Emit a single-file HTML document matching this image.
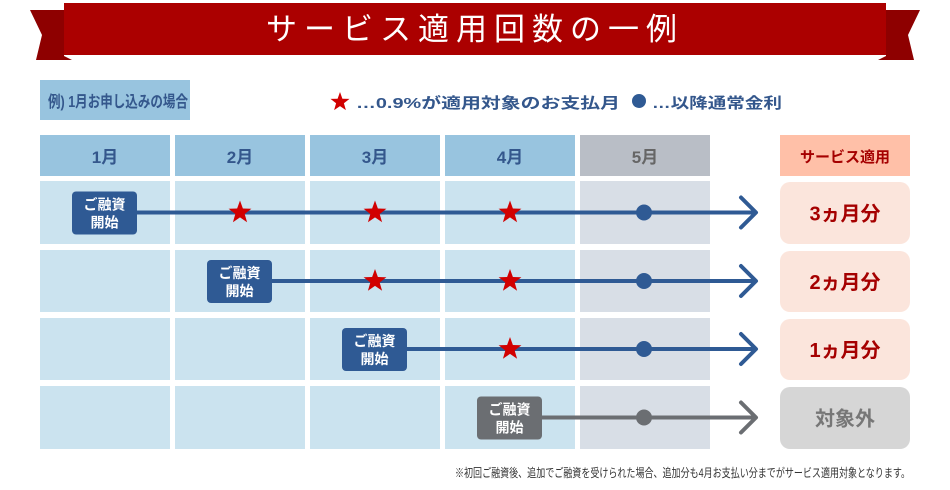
<!DOCTYPE html>
<html><head><meta charset="utf-8">
<style>
body{margin:0;width:950px;height:490px;background:#fff;overflow:hidden;font-family:"Liberation Sans","Noto Sans CJK JP",sans-serif}
svg{display:block}
text{font-family:"Liberation Sans","Noto Sans CJK JP",sans-serif}
</style></head><body>
<svg width="950" height="490" viewBox="0 0 950 490">
<g>
<polygon points="30,10 64,10 64,56 72,60 36,60 42,35" fill="#8e0000"/>
<polygon points="920,10 886,10 886,56 878,60 914,60 908,35" fill="#8e0000"/>
<rect x="64" y="3" width="822" height="52" fill="#ab0000"/>
<text x="475" y="40" text-anchor="middle" font-size="31" fill="#fff" letter-spacing="7">サービス適用回数の一例</text>
</g>
<g>
<rect x="40" y="80" width="150" height="40" fill="#98c4df"/>
<text x="48" y="107" font-size="16" font-weight="bold" fill="#34578c" textLength="140" lengthAdjust="spacingAndGlyphs">例) 1月お申し込みの場合</text>
<polygon id="star" points="0,-10 2.4,-3.3 9.5,-3.1 3.9,1.3 5.9,8.1 0,4.1 -5.9,8.1 -3.9,1.3 -9.5,-3.1 -2.4,-3.3" fill="#d10000" transform="translate(340,102)"/>
<text x="356" y="108" font-size="15" font-weight="bold" fill="#34578c" textLength="264" lengthAdjust="spacingAndGlyphs">…0.9%が適用対象のお支払月</text>
<circle cx="639" cy="101" r="7" fill="#2f5a94"/>
<text x="652" y="108" font-size="15" font-weight="bold" fill="#34578c" textLength="130" lengthAdjust="spacingAndGlyphs">…以降通常金利</text>
</g>
<g id="grid"></g>
<g id="rows"></g>
<text x="455" y="477" font-size="12" fill="#333" textLength="455" lengthAdjust="spacingAndGlyphs">※初回ご融資後、追加でご融資を受けられた場合、追加分も4月お支払い分までがサービス適用対象となります。</text>
</svg>
<script>
const months=["1月","2月","3月","4月","5月"];
const startMonth=[1,2,3,4];
const starCount=[3,2,1,0];
const resultLabels=["3ヵ月分","2ヵ月分","1ヵ月分","対象外"];
const NS="http://www.w3.org/2000/svg";
function mk(t,a,p){const e=document.createElementNS(NS,t);for(const k in a)e.setAttribute(k,a[k]);p.appendChild(e);return e;}
const grid=document.getElementById('grid'),rowsG=document.getElementById('rows');
const colX=i=>40+i*135, colW=130;
const rowY=[181,250,318,386], rowH=[63,62,62,63];
months.forEach((m,i)=>{
 const r=mk('rect',{x:colX(i),y:135,width:colW,height:41,fill:i<4?'#98c4df':'#b9bec6'},grid);
 
 
 const t=mk('text',{x:colX(i)+colW/2,y:163,'text-anchor':'middle','font-size':17,'font-weight':'bold',fill:i<4?'#34578c':'#666'},grid);t.textContent=m;
 rowY.forEach((y,j)=>{const c=mk('rect',{x:colX(i),y:y,width:colW,height:rowH[j],fill:i<4?'#cbe3ef':'#d8dee6'},grid);
 
 });
});
const h=mk('rect',{x:780,y:135,width:130,height:41,fill:'#ffc0a8'},grid);


const ht=mk('text',{x:845,y:162,'text-anchor':'middle','font-size':15,'font-weight':'bold',fill:'#a50000'},grid);ht.textContent='サービス適用';
startMonth.forEach((s,j)=>{
 const y=rowY[j]+rowH[j]/2;
 const gray=starCount[j]===0;
 const col=gray?'#6b6e72':'#2f5a94';
 const g=mk('g',{},rowsG);
 
 
 const bx=colX(s-1)+32;
 mk('line',{x1:bx+60,y1:y,x2:756,y2:y,stroke:col,'stroke-width':4},g);
 mk('polyline',{points:`741,${y-15} 756,${y} 741,${y+15}`,fill:'none',stroke:col,'stroke-width':4,'stroke-linecap':'round','stroke-linejoin':'round'},g);
 const b=mk('rect',{x:bx,y:y-21,width:65,height:43,rx:4,fill:col},g);
 
 
 let t=mk('text',{x:bx+32.5,y:y-3,'text-anchor':'middle','font-size':14,'font-weight':'bold',fill:'#fff'},g);t.textContent='ご融資';
 t=mk('text',{x:bx+32.5,y:y+15,'text-anchor':'middle','font-size':14,'font-weight':'bold',fill:'#fff'},g);t.textContent='開始';
 for(let k=0;k<starCount[j];k++){const m=s+k;const st=mk('polygon',{points:document.getElementById('star').getAttribute('points'),fill:'#d10000',transform:`translate(${colX(m)+colW/2},${y}) scale(1.2)`},g);
 
 }
 const d=mk('circle',{cx:colX(4)+64,cy:y,r:8,fill:col},g);
 
 
 const r=mk('rect',{x:780,y:rowY[j]+1,width:130,height:rowH[j]-1,rx:10,fill:gray?'#d6d6d6':'#fbe5dc'},g);
 
 
 t=mk('text',{x:845,y:y+8,'text-anchor':'middle','font-size':20,'font-weight':'bold',fill:gray?'#777':'#a50000'},g);t.textContent=resultLabels[j];
});
</script>
</body></html>
